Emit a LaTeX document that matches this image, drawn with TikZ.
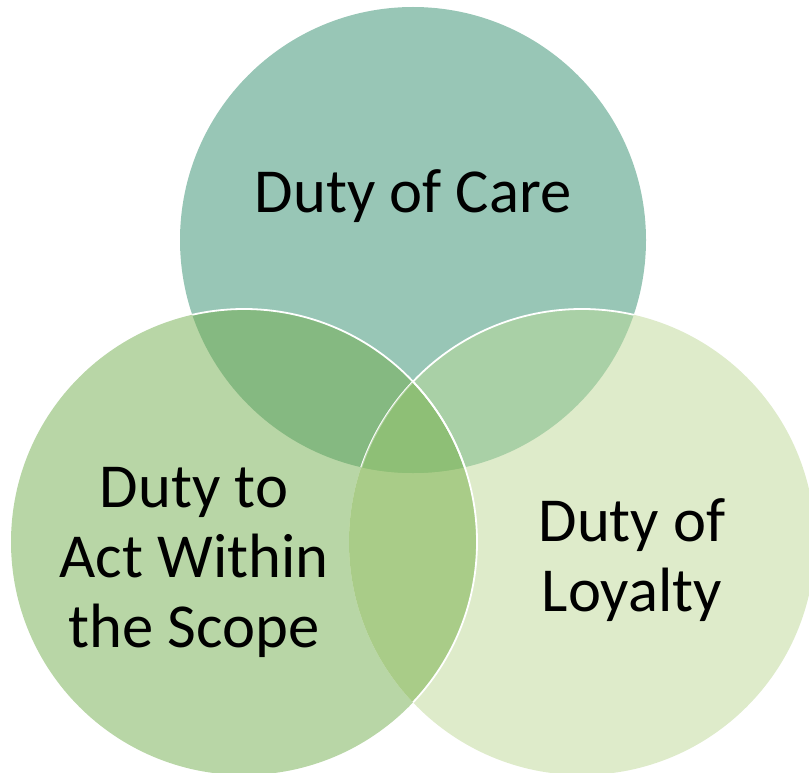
\documentclass[tikz,border=0pt]{standalone}
\usepackage{fontspec}
\setmainfont{Carlito}
\begin{document}
\begin{tikzpicture}[x=1pt,y=-1pt,
  lbl/.style={inner sep=0pt,align=center,text=black,font=\fontsize{62.6}{70}\selectfont},
  rim/.style={draw=white,line width=1.8pt}]
\definecolor{cTop}{HTML}{98C6B6}
\definecolor{cLeft}{HTML}{B8D6A6}
\definecolor{cRight}{HTML}{DEEBCA}
\definecolor{cTL}{HTML}{85B981}
\definecolor{cTR}{HTML}{A9D0A6}
\definecolor{cLR}{HTML}{A9CC88}
\definecolor{cAll}{HTML}{8EBF76}
\useasboundingbox (0,0) rectangle (809,773);
% circle centres
\coordinate (T) at (413,240);
\coordinate (L) at (244,542);
\coordinate (R) at (582,542);
\def\rad{233pt}
% single regions
\fill[cTop] (T) circle[radius=\rad];
\fill[cLeft] (L) circle[radius=\rad];
\fill[cRight] (R) circle[radius=\rad];
% pairwise overlaps
\begin{scope}
  \clip (T) circle[radius=\rad];
  \fill[cTL] (L) circle[radius=\rad];
  \fill[cTR] (R) circle[radius=\rad];
\end{scope}
\begin{scope}
  \clip (L) circle[radius=\rad];
  \fill[cLR] (R) circle[radius=\rad];
\end{scope}
% common centre
\begin{scope}
  \clip (T) circle[radius=\rad];
  \clip (L) circle[radius=\rad];
  \fill[cAll] (R) circle[radius=\rad];
\end{scope}
% white rim of the right circle inside the top circle
\begin{scope}
  \clip (T) circle[radius=\rad];
  \draw[rim] (R) circle[radius=\rad];
\end{scope}
\begin{scope}
  \clip (T) circle[radius=\rad];
  \clip (L) circle[radius=\rad];
  \fill[cAll] (R) circle[radius=\rad];
  \draw[rim,draw opacity=0.4] (R) circle[radius=\rad];
\end{scope}
% white rim of the left circle inside the other two
\begin{scope}
  \clip (T) circle[radius=\rad];
  \draw[rim] (L) circle[radius=\rad];
\end{scope}
\begin{scope}
  \clip (R) circle[radius=\rad];
  \draw[rim] (L) circle[radius=\rad];
\end{scope}
% labels
\node[lbl,anchor=base] (care) at (413,212) {Duty of Care};
\node[lbl] (scope) at (194,562) {Duty to\\Act Within\\the Scope};
\node[lbl] (loyal) at (632,560) {Duty of\\Loyalty};
\end{tikzpicture}
\end{document}
